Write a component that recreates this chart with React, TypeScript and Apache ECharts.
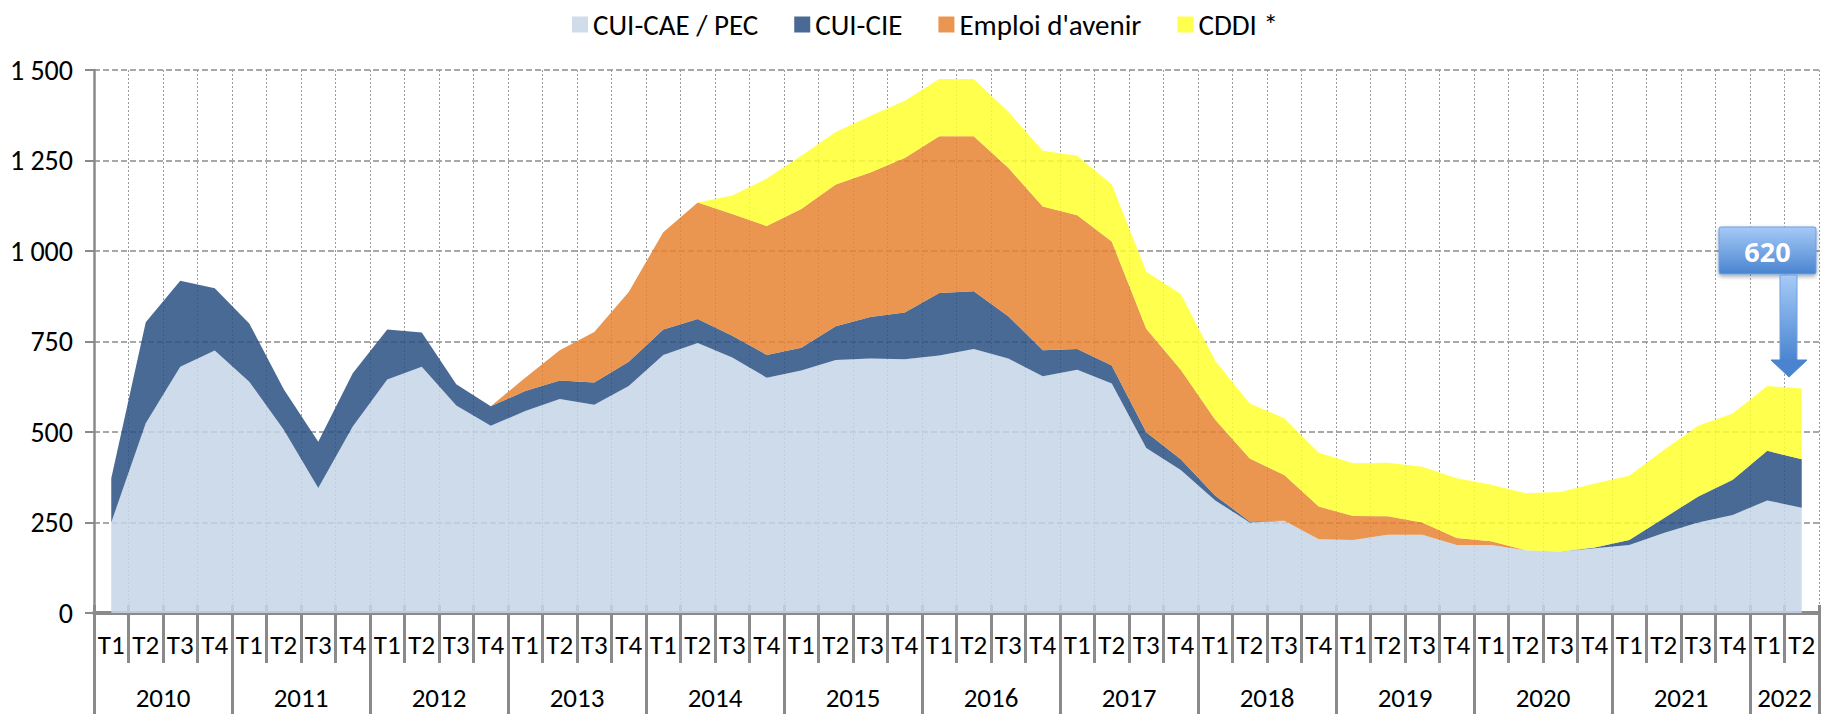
import React, { useEffect, useRef } from "react";
import * as echarts from "echarts";

const years = ["2010", "2011", "2012", "2013", "2014", "2015", "2016", "2017", "2018", "2019", "2020", "2021", "2022"];
const quarterLabels = ["T1", "T2", "T3", "T4"];
const lastYearQuarters = 2;

const seriesNames = ["CUI-CAE / PEC", "CUI-CIE", "Emploi d'avenir", "CDDI *"];

const cuiCae = [250, 524, 680, 725, 639, 506, 345, 515, 645, 680, 573, 517, 558, 591, 575, 627, 713, 746, 706, 650, 670, 699, 703, 701, 711, 729, 703, 654, 672, 634, 456, 395, 311, 250, 255, 204, 202, 216, 216, 188, 188, 173, 170, 179, 188, 221, 250, 271, 311, 291];
const cuiCie = [122, 279, 238, 172, 161, 112, 128, 147, 138, 95, 59, 54, 55, 51, 62, 67, 70, 66, 60, 63, 63, 93, 115, 129, 173, 160, 117, 72, 57, 50, 43, 30, 13, 3, 0, 0, 0, 0, 0, 0, 0, 0, 0, 2, 14, 41, 72, 97, 137, 134];
const emploiAvenir = [0, 0, 0, 0, 0, 0, 0, 0, 0, 0, 0, 0, 37, 84, 139, 193, 269, 322, 336, 356, 383, 392, 399, 427, 433, 428, 410, 397, 370, 342, 286, 247, 210, 174, 126, 90, 66, 51, 34, 19, 10, 0, 0, 0, 0, 0, 0, 0, 0, 0];
const cddi = [0, 0, 0, 0, 0, 0, 0, 0, 0, 0, 0, 0, 0, 0, 0, 0, 0, 0, 51, 131, 147, 145, 156, 158, 158, 158, 155, 154, 164, 158, 158, 209, 163, 152, 157, 149, 146, 148, 154, 165, 156, 158, 164, 177, 177, 188, 195, 183, 179, 195];

const yTicks = { min: 0, max: 1500, interval: 250 };
const calloutText = "620";

const seriesColors = ["#c5d5e6", "#2a5084", "#e68431", "#ffff2e"];
const legendColors = ["#cfdcea", "#4a6a96", "#ea9650", "#ffff4d"];

const FONT = "Carlito, 'Liberation Sans Narrow', 'Open Sans', sans-serif";

export default function App() {
  const ref = useRef<HTMLDivElement>(null);

  useEffect(() => {
    document.body.style.margin = "0";
    if (!ref.current) return;
    const chart = echarts.init(ref.current, null, { renderer: "svg" });

    const categories: string[] = [];
    years.forEach((y, yi) => {
      const n = yi === years.length - 1 ? lastYearQuarters : 4;
      for (let q = 0; q < n; q++) categories.push(`${y}|${quarterLabels[q]}`);
    });
    const nCat = categories.length;
    const halfSteps: string[] = [];
    for (let k = 0; k <= nCat * 2; k++) halfSteps.push(`h${k}`);

    const yearLabelAt: Record<number, string> = {};
    const yearSepAt: Record<number, boolean> = {};
    let pos = 0;
    years.forEach((y, yi) => {
      const n = yi === years.length - 1 ? lastYearQuarters : 4;
      yearSepAt[pos] = true;
      yearLabelAt[pos + n] = y;
      pos += n * 2;
    });
    yearSepAt[pos] = true;

    const tickColor = "#8a8a8a";

    const fmtY = (v: number) =>
      v >= 1000 ? `${Math.floor(v / 1000)} ${String(v % 1000).padStart(3, "0")}` : String(v);

    const data = [cuiCae, cuiCie, emploiAvenir, cddi];

    chart.setOption({
      animation: false,
      textStyle: { fontFamily: FONT },
      legend: {
        top: 5,
        left: 567,
        itemWidth: 16,
        itemHeight: 16,
        itemGap: 36,
        icon: "rect",
        textStyle: { fontSize: 29, color: "#000", fontFamily: FONT },
        data: seriesNames.map((n, i) => ({ name: n, itemStyle: { color: legendColors[i] } })),
      },
      grid: { left: 94, right: 12, top: 70, bottom: 101, containLabel: false, outerBoundsMode: "none" },
      xAxis: [
        {
          type: "category",
          data: categories,
          boundaryGap: true,
          position: "bottom",
          axisLine: { show: true, lineStyle: { color: tickColor, width: 4 } },
          axisTick: { show: true, length: 50, interval: 0, lineStyle: { color: tickColor, width: 3 } },
          axisLabel: {
            interval: 0,
            margin: 18,
            fontSize: 27,
            color: "#000",
            fontFamily: FONT,
            formatter: (v: string) => v.split("|")[1],
          },
          splitLine: { show: true, interval: 0, lineStyle: { color: "#9a9a9a", width: 1, type: [2, 2] } },
        },
        {
          type: "category",
          data: halfSteps,
          boundaryGap: false,
          position: "bottom",
          axisLine: { show: false },
          axisTick: {
            show: true,
            length: 101,
            interval: (i: number) => !!yearSepAt[i],
            lineStyle: { color: tickColor, width: 3 },
          },
          axisLabel: {
            show: true,
            margin: 71,
            fontSize: 27,
            color: "#000",
            fontFamily: FONT,
            interval: (i: number) => yearLabelAt[i] !== undefined,
            formatter: (_v: string, i: number) => yearLabelAt[i] ?? "",
          },
          splitLine: { show: false },
        },
        {
          type: "category",
          data: categories,
          boundaryGap: true,
          position: "bottom",
          axisLine: { show: false },
          axisTick: { show: true, inside: true, length: 8, interval: 0, lineStyle: { color: tickColor, width: 3 } },
          axisLabel: { show: false },
          splitLine: { show: false },
        },
      ],
      yAxis: {
        type: "value",
        min: yTicks.min,
        max: yTicks.max,
        interval: yTicks.interval,
        axisLine: { show: true, lineStyle: { color: tickColor, width: 2.5 } },
        axisTick: { show: true, length: 9, lineStyle: { color: tickColor, width: 2 } },
        axisLabel: { margin: 21, fontSize: 28, color: "#000", fontFamily: FONT, formatter: fmtY },
        splitLine: { show: true, lineStyle: { color: "#8c8c8c", width: 1.5, type: [6, 3] } },
      },
      series: seriesNames.map((name, i) => ({
        name,
        type: "line",
        stack: "total",
        data: data[i],
        xAxisIndex: 0,
        yAxisIndex: 0,
        color: seriesColors[i],
        showSymbol: false,
        symbol: "none",
        lineStyle: { width: 0 },
        areaStyle: { color: seriesColors[i], opacity: 0.85 },
        emphasis: { disabled: true },
      })),
      graphic: [
        {
          type: "rect",
          z: 100,
          shape: { x: 1719, y: 227, width: 97, height: 47, r: 2 },
          style: {
            fill: new echarts.graphic.LinearGradient(0, 0, 0, 1, [
              { offset: 0, color: "#a6caf8" },
              { offset: 1, color: "#4a84d0" },
            ]),
            stroke: "#6f9fe0",
            lineWidth: 1,
            shadowBlur: 4,
            shadowColor: "rgba(0,0,0,0.35)",
            shadowOffsetY: 2,
          },
        },
        {
          type: "text",
          z: 101,
          x: 1767.5,
          y: 251,
          style: {
            text: calloutText,
            fill: "#ffffff",
            stroke: "none",
            lineWidth: 0,
            fontSize: 27,
            fontWeight: "bold",
            fontFamily: "'Open Sans', 'Noto Sans', sans-serif",
            align: "center",
            verticalAlign: "middle",
          },
        },
        {
          type: "rect",
          z: 100,
          shape: { x: 1780, y: 275, width: 17, height: 86 },
          style: {
            fill: new echarts.graphic.LinearGradient(0, 0, 0, 1, [
              { offset: 0, color: "#a6caf8" },
              { offset: 1, color: "#4a84d0" },
            ]),
            stroke: "#6f9fe0",
            lineWidth: 1,
          },
        },
        {
          type: "polygon",
          z: 100,
          shape: { points: [[1771, 360], [1807, 360], [1789, 377]] },
          style: { fill: "#4a84d0", stroke: "#4a84d0", lineWidth: 1 },
        },
      ],
    });

    return () => chart.dispose();
  }, []);

  return <div ref={ref} style={{ width: 1831, height: 714 }} />;
}
